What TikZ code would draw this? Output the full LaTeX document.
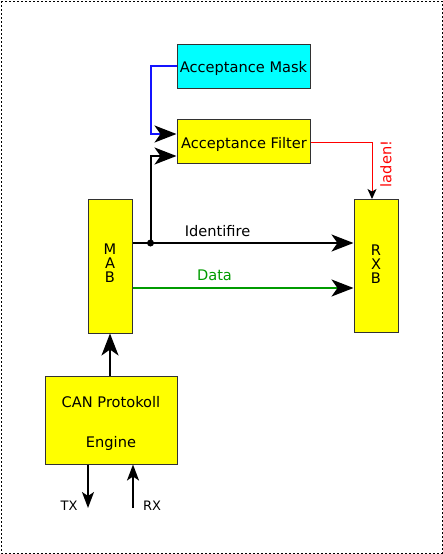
\documentclass[tikz,border=0pt]{standalone}
\usepackage{fontspec}
\setmainfont{DejaVu Sans}
\usetikzlibrary{arrows.meta}
\definecolor{datagreen}{RGB}{0,155,0}
\definecolor{boxline}{RGB}{50,50,50}
\definecolor{linkblue}{RGB}{20,20,255}
\definecolor{maskcyan}{RGB}{0,255,255}
\definecolor{boxyellow}{RGB}{255,255,0}
\definecolor{ladenred}{RGB}{255,0,0}
\begin{document}
\begin{tikzpicture}[x=1pt,y=-1pt,
  box/.style={draw=boxline, line width=1pt, inner sep=0pt},
  big/.style={line width=2pt, -{Stealth[length=22pt,width=17pt,inset=6pt,color=black]}},
  mid/.style={line width=2pt, -{Stealth[length=16pt,width=12pt,inset=4pt,color=black]}},
  small/.style={line width=1pt, -{Stealth[length=10pt,width=9pt,inset=2.5pt,color=black]}},
  lbl/.style={font=\fontsize{14.6}{17}\selectfont, inner sep=0pt, anchor=base},
  stack/.style={font=\fontsize{14.6}{14}\selectfont, inner sep=0pt, align=center},
  io/.style={font=\fontsize{13}{15}\selectfont, inner sep=0pt, anchor=base},
]
\useasboundingbox (0,0) rectangle (443,554);
\draw[dash pattern=on 2pt off 2pt, line width=1pt] (1,1) rectangle (442,553);

% boxes
\node[box, fill=maskcyan, minimum width=133pt, minimum height=44pt] (mask) at (243.5,66) {};
\node[box, fill=boxyellow, minimum width=133pt, minimum height=44pt] (filter) at (243.5,141) {};
\node[box, fill=boxyellow, minimum width=44pt, minimum height=134pt] (mab) at (110,266) {};
\node[box, fill=boxyellow, minimum width=44pt, minimum height=133pt] (rxb) at (376,266) {};
\node[box, fill=boxyellow, minimum width=132pt, minimum height=88pt] (can) at (111,420) {};

% box texts
\node[lbl] (maskt) at (243.5,72.7) {Acceptance Mask};
\node[lbl] (filtert) at (244,148) {Acceptance Filter};
\node[stack] (mabt) at (110,263.5) {M\\A\\B};
\node[stack] (rxbt) at (376,264.5) {R\\X\\B};
\node[lbl] (cant1) at (111,407) {CAN Protokoll};
\node[lbl] (cant2) at (111,447) {Engine};

% connectors
\coordinate (j) at ([xshift=18pt,yshift=23pt]mab.east);
\draw[linkblue, big] (mask.west) -- ++(-26,0) |- ([yshift=7pt]filter.west);
\draw[big] (j) |- ([yshift=-15pt]filter.west);
\draw[big] ([yshift=23pt]mab.east) -- ([yshift=23pt]rxb.west);
\fill (j) circle (3.5pt);
\draw[datagreen, big] ([yshift=-22pt]mab.east) -- ([yshift=-22pt]rxb.west);
\draw[ladenred, small] ([yshift=-1pt]filter.east) -| ([xshift=-4pt]rxb.north);
\draw[big] (mab.south |- can.north) -- (mab.south);
\coordinate (txend) at (88,508);
\coordinate (rxstart) at (133,508);
\draw[mid] ([xshift=-23pt]can.south) -- (txend);
\draw[mid] (rxstart) -- ([xshift=22pt]can.south);

% connector labels
\node[lbl] (idt) at (217.5,236.7) {Identifire};
\node[lbl, text=datagreen] (datat) at (214.5,280.7) {Data};
\node[font=\fontsize{14.6}{17}\selectfont, inner sep=0pt, text=ladenred, rotate=90] (laden) at (386,164) {laden!};
\node[io] (txt) at (69,510) {TX};
\node[io] (rxt) at (152,510) {RX};
\end{tikzpicture}
\end{document}
